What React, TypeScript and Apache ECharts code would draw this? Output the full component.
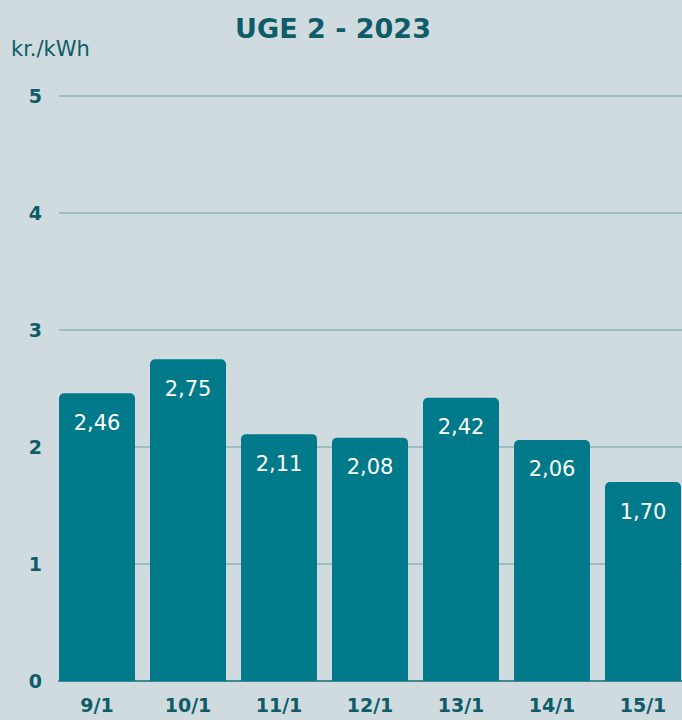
import React, { useEffect, useRef } from "react";
import * as echarts from "echarts";

const categories = ["9/1", "10/1", "11/1", "12/1", "13/1", "14/1", "15/1"];
const prices = [2.46, 2.75, 2.11, 2.08, 2.42, 2.06, 1.7];
const titleText = "UGE 2 - 2023";
const unitText = "kr./kWh";
const yMin = 0;
const yMax = 5;
const yInterval = 1;

const DARK = "#0d5c68";
const BAR = "#007a8a";
const BG = "#cfdbdf";
const GRID = "#9dbdc1";
const FONT = "DejaVu Sans";

export default function App() {
  const ref = useRef<HTMLDivElement>(null);
  useEffect(() => {
    if (!ref.current) return;
    const chart = echarts.init(ref.current, undefined, { renderer: "svg" });
    chart.setOption({
      animation: false,
      backgroundColor: BG,
      textStyle: { fontFamily: FONT },
      graphic: [
        {
          type: "text",
          x: 333,
          y: 28,
          style: {
            text: titleText,
            align: "center",
            verticalAlign: "middle",
            fontFamily: FONT,
            fontWeight: "bold",
            fontSize: 27,
            fill: DARK,
          },
        },
        {
          type: "text",
          x: 11,
          y: 49,
          style: {
            text: unitText,
            align: "left",
            verticalAlign: "middle",
            fontFamily: FONT,
            fontSize: 21,
            fill: DARK,
          },
        },
      ],
      grid: [
        { left: 51.5, right: 1.5, top: 96, bottom: 39 },
        { left: 59, right: 0, top: 96, bottom: 39 },
      ],
      xAxis: [
        {
          type: "category",
          gridIndex: 0,
          data: categories,
          axisLine: { show: false },
          axisTick: { show: false },
          axisLabel: {
            margin: 14,
            color: DARK,
            fontWeight: "bold",
            fontSize: 19,
            fontFamily: FONT,
          },
        },
        {
          type: "value",
          gridIndex: 1,
          min: 0,
          max: 1,
          axisLine: { show: true, lineStyle: { color: "#3f8892", width: 2 } },
          axisTick: { show: false },
          axisLabel: { show: false },
          splitLine: { show: false },
        },
      ],
      yAxis: [
        {
          type: "value",
          gridIndex: 0,
          min: yMin,
          max: yMax,
          interval: yInterval,
          show: false,
        },
        {
          type: "value",
          gridIndex: 1,
          min: yMin,
          max: yMax,
          interval: yInterval,
          axisLine: { show: false },
          axisTick: { show: false },
          axisLabel: {
            margin: 17,
            color: DARK,
            fontWeight: "bold",
            fontSize: 19,
            fontFamily: FONT,
          },
          splitLine: { lineStyle: { color: GRID, width: 2 } },
        },
      ],
      series: [
        {
          type: "bar",
          xAxisIndex: 0,
          yAxisIndex: 0,
          data: prices,
          barWidth: 76,
          itemStyle: { color: BAR, borderRadius: [5, 5, 0, 0] },
          label: {
            show: true,
            position: "insideTop",
            distance: 19,
            color: "#ffffff",
            fontSize: 21,
            fontFamily: FONT,
            formatter: (p: any) => p.value.toFixed(2).replace(".", ","),
          },
        },
      ],
    });
    return () => chart.dispose();
  }, []);
  return (
    <div style={{ width: 682, height: 720, position: "absolute", left: 0, top: 0, overflow: "hidden", background: BG }}>
      <div ref={ref} style={{ width: 690, height: 720 }} />
    </div>
  );
}
